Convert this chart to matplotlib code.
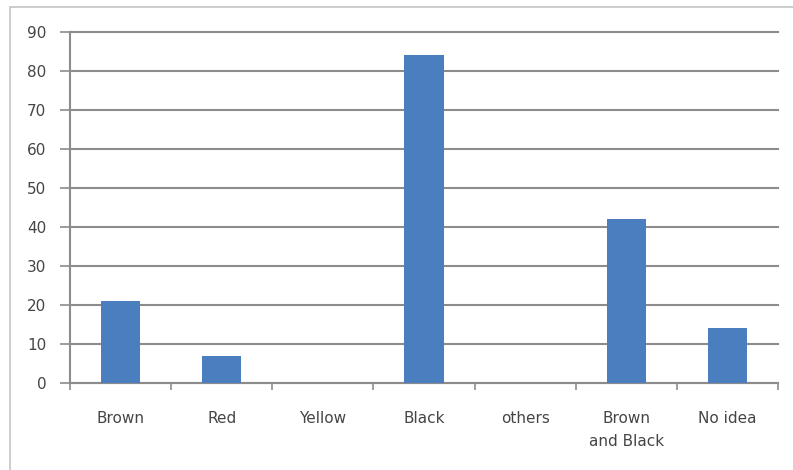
import numpy as np
import matplotlib.pyplot as plt
from matplotlib.patches import Rectangle

categories = ['Brown', 'Red', 'Yellow', 'Black', 'others', 'Brown\nand Black', 'No idea']
values = [21, 7, 0, 84, 0, 42, 14]

bar_color = '#4a7ebf'
grid_color = '#8c8c8c'
text_color = '#454545'

fig = plt.figure(figsize=(7.93, 4.70), dpi=100)
ax = fig.add_axes([70 / 793, 1 - 383 / 470, 708 / 793, 351 / 470])

# outer chart frame (runs off the right and bottom edges)
fig.patches.append(Rectangle((10 / 793, -0.05), 1.1, 1.05 - 7 / 470,
                             transform=fig.transFigure, fill=False,
                             edgecolor='#c4c4c4', linewidth=1.2))

x = np.arange(len(categories))
ax.bar(x, values, width=0.39, color=bar_color, zorder=3)

ax.set_xlim(-0.5, len(categories) - 0.5)
ax.set_ylim(0, 90)
ax.set_yticks(np.arange(0, 91, 10))
ax.yaxis.grid(True, color=grid_color, linewidth=1.5)
ax.set_axisbelow(True)
for line in ax.get_ygridlines():
    line.set_clip_on(False)

ax.set_xticks(x)
ax.set_xticklabels(categories, linespacing=1.7)
ax.set_xticks(np.arange(-0.5, len(categories), 1), minor=True)
ax.tick_params(axis='x', which='major', length=0, pad=20,
               labelsize=11, labelcolor=text_color)
ax.tick_params(axis='x', which='minor', length=5, width=1.2,
               color=grid_color, direction='out')
ax.tick_params(axis='y', length=7, width=1.2, color=grid_color,
               pad=10, labelsize=11, labelcolor=text_color)

for side in ['top', 'right']:
    ax.spines[side].set_visible(False)
for side in ['left', 'bottom']:
    ax.spines[side].set_color(grid_color)
    ax.spines[side].set_linewidth(1.5)

fig.savefig('out.png', dpi=100)
